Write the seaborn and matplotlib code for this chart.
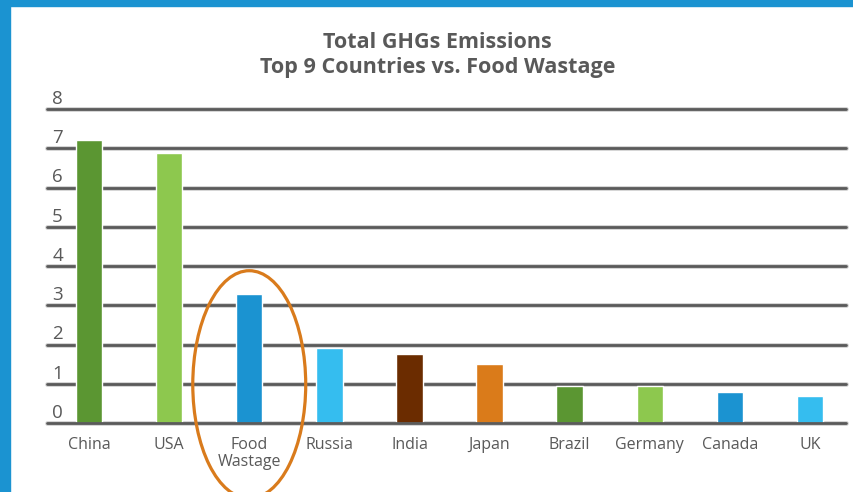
"""
Total GHGs Emissions: Top 9 Countries vs. Food Wastage
"""

import matplotlib.pyplot as plt
import matplotlib.patches as mpatches
import matplotlib.transforms as mtransforms
import seaborn as sns
import pandas as pd

# 数据
countries = ['China', 'USA', 'Food\nWastage', 'Russia', 'India', 'Japan',
             'Brazil', 'Germany', 'Canada', 'UK']
emissions = [7.21, 6.88, 3.29, 1.91, 1.76, 1.50, 0.95, 0.95, 0.79, 0.68]
bar_colors = ['#5B9632', '#8DC84E', '#1B93D1', '#35BDEF', '#6B2C00',
              '#DA7B1A', '#5B9632', '#8DC84E', '#1B93D1', '#35BDEF']
y_ticks = list(range(0, 9))
highlight = 'Food\nWastage'

TEXT = '#595959'
BLUE = '#1B93D1'

sns.set_theme(style='white')
plt.rcParams['font.family'] = ['Open Sans', 'DejaVu Sans']

df = pd.DataFrame({'country': countries, 'value': emissions})

fig = plt.figure(figsize=(8.54, 4.92), dpi=100)
ax = fig.add_axes([47 / 854, 1 - 423 / 492, 799 / 854, 314 / 492])

sns.barplot(data=df, x='country', y='value', order=countries,
            hue='country', palette=bar_colors, legend=False,
            width=0.33, saturation=1, ax=ax, zorder=2)

ax.set_ylim(0, 8)
ax.set_xlim(-0.525, len(countries) - 0.55)

# 横向网格线 + 线上方的数字
trans = mtransforms.blended_transform_factory(ax.transAxes, ax.transData)
for t in y_ticks:
    ax.axhline(t, color='#D0D0D0', lw=3.4, zorder=0, clip_on=False)
    ax.axhline(t, color='#5A5A5A', lw=2.0, zorder=1 if t else 3, clip_on=False)
    ax.text(0.0065, t + 0.03, str(t), transform=trans, ha='left', va='bottom',
            fontsize=13.5, color=TEXT)

ax.set_yticks([])
ax.set_xlabel('')
ax.set_ylabel('')
ax.set_xticks(range(len(countries)))
ax.set_xticklabels(countries, fontsize=11.5, color=TEXT, linespacing=1.1)
ax.tick_params(axis='x', length=0, pad=10)
for s in ax.spines.values():
    s.set_visible(False)

# 橙色椭圆圈出 Food Wastage
idx = countries.index(highlight)
ell = mpatches.Ellipse((idx, 0.98), width=1.41, height=5.8,
                       fill=False, edgecolor='#D97B1C', lw=2.3,
                       clip_on=False, zorder=4)
ax.add_patch(ell)

# 标题
fig.text(437.5 / 854, 1 - 55 / 492, 'Total GHGs Emissions\nTop 9 Countries vs. Food Wastage',
         ha='center', va='center', fontsize=15.5, fontweight='bold',
         color=TEXT, linespacing=1.3)

# 蓝色边框
fig.patches.append(mpatches.Rectangle((0, 0), 10 / 854, 1, transform=fig.transFigure,
                                      color=BLUE, zorder=10))
fig.patches.append(mpatches.Rectangle((0, 1 - 5.5 / 492), 1, 5.5 / 492,
                                      transform=fig.transFigure, color=BLUE, zorder=10))

fig.savefig('out.png', dpi=100)
